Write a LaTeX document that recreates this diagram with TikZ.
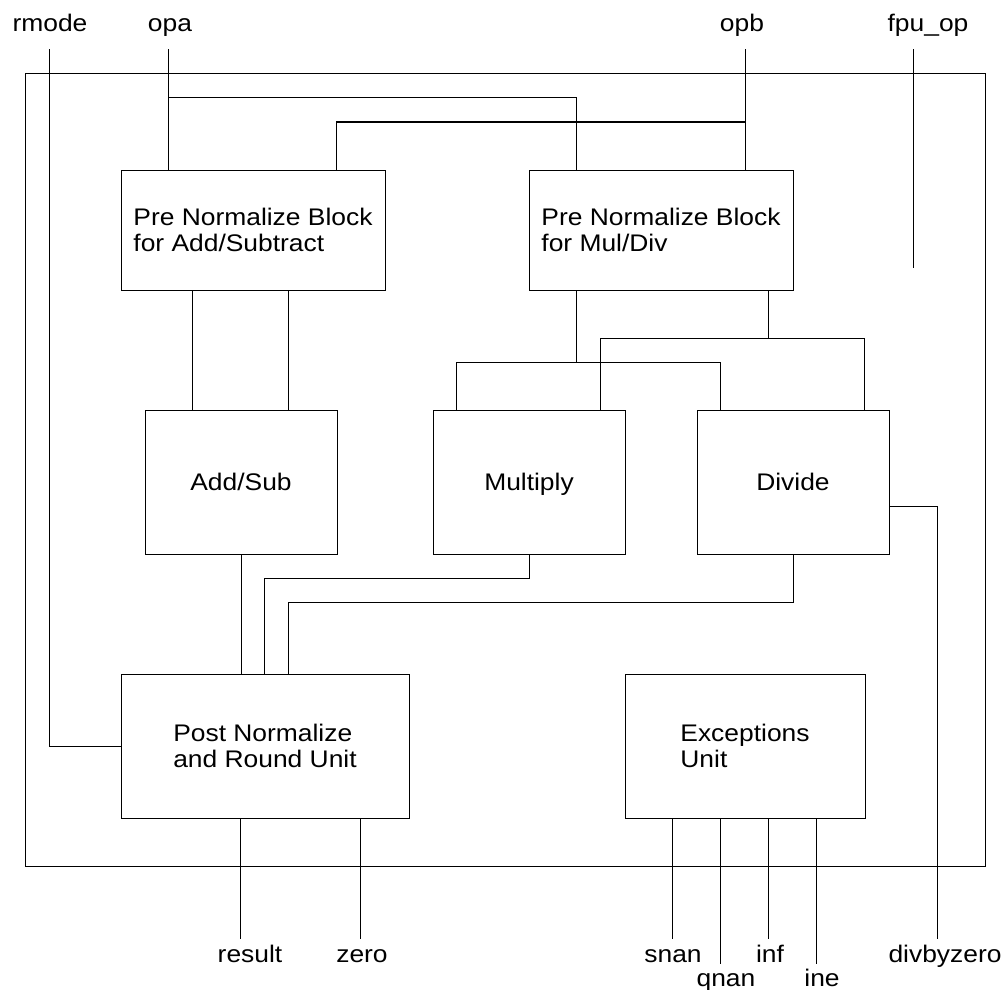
\documentclass[tikz,border=0pt]{standalone}
\usepackage{fontspec}
\setmainfont{Liberation Sans}[FakeStretch=1.1]
\begin{document}
\begin{tikzpicture}[x=1pt,y=-1pt,
  wire/.style={line width=1pt, line cap=rect},
  blk/.style={draw, line width=1pt, inner sep=0pt, align=left, font=\fontsize{24}{26}\selectfont},
  oneline/.style={text height=17pt, text depth=-3pt},
  sig/.style={font=\fontsize{24}{26}\selectfont, anchor=base, inner sep=0pt}]
\useasboundingbox (0,0) rectangle (1005,990);
% outer chip
\node[draw, line width=1pt, inner sep=0pt, minimum width=960, minimum height=792] (chip) at (505,470) {};
% blocks
\node[blk, minimum width=264, minimum height=120] (preas) at (253,230) {Pre Normalize Block\\for Add/Subtract};
\node[blk, minimum width=264, minimum height=120] (premd) at (661,230) {Pre Normalize Block\\for Mul/Div};
\node[blk, oneline, minimum width=192, minimum height=144] (addsub) at (241,482) {Add/Sub};
\node[blk, oneline, minimum width=192, minimum height=144] (mult) at (529,482) {Multiply};
\node[blk, oneline, minimum width=192, minimum height=144] (div) at (793,482) {Divide};
\node[blk, minimum width=288, minimum height=144] (post) at (265,746) {Post Normalize\\and Round Unit};
\node[blk, minimum width=240, minimum height=144] (exc) at (745,746) {Exceptions\\Unit};
% signal labels
\node[sig] (lrmode) at (50,32) {rmode};
\node[sig] (lopa) at (170,32) {opa};
\node[sig] (lopb) at (742,32) {opb};
\node[sig] (lfpu) at (928,32) {fpu\_op};
\node[sig] (lresult) at (250,962) {result};
\node[sig] (lzero) at (362,962) {zero};
\node[sig] (lsnan) at (673,962) {snan};
\node[sig] (lqnan) at (726,986) {qnan};
\node[sig] (linf) at (770,962) {inf};
\node[sig] (line) at (822,986) {ine};
\node[sig] (ldbz) at (945,962) {divbyzero};
% coordinates of free ends
\coordinate (rmodeT) at (49,50);
\coordinate (opaT) at (168,50);
\coordinate (opaJ) at (168,98);
\coordinate (opbT) at (745,50);
\coordinate (opbJ) at (745,122);
\coordinate (fpuT) at (913,50);
\coordinate (fpuE) at (913,267);
% inputs
\draw[wire] (rmodeT) |- (post.west);
\draw[wire] (opaT) -- (opaT |- preas.north);
\draw[wire] (opaJ) -| ([xshift=48]premd.north west);
\draw[wire] (opbT) -- (opbT |- premd.north);
\draw[wire] (opbJ) -| ([xshift=216]preas.north west);
\draw[wire] (fpuT) -- (fpuE);
% pre add/sub to add/sub
\coordinate (a1) at ([xshift=48]addsub.north west);
\coordinate (a2) at ([xshift=144]addsub.north west);
\draw[wire] (a1) -- (a1 |- preas.south);
\draw[wire] (a2) -- (a2 |- preas.south);
% pre mul/div to multiply and divide
\coordinate (m1) at ([xshift=48]premd.south west);
\coordinate (bus1) at ([yshift=-72]m1);
\coordinate (m2) at ([xshift=240]premd.south west);
\coordinate (bus2) at ([yshift=-48]m2);
\coordinate (mi1) at ([xshift=24]mult.north west);
\coordinate (mi2) at ([xshift=168]mult.north west);
\coordinate (di1) at ([xshift=24]div.north west);
\coordinate (di2) at ([xshift=168]div.north west);
\draw[wire] (m1) -- (bus1);
\draw[wire] (mi1) |- (bus1);
\draw[wire] (di1) |- (bus1);
\draw[wire] (m2) -- (bus2);
\draw[wire] (mi2) |- (bus2);
\draw[wire] (di2) |- (bus2);
% results to post normalize
\coordinate (p2) at ([xshift=144]post.north west);
\coordinate (p3) at ([xshift=168]post.north west);
\draw[wire] (addsub.south) -- (addsub.south |- post.north);
\draw[wire] (mult.south) -- ++(0,24) -| (p2);
\draw[wire] (div.south) -- ++(0,48) -| (p3);
% divbyzero
\coordinate (dbzE) at (937,938);
\draw[wire] ([yshift=-24]div.east) -| (dbzE);
% outputs
\coordinate (r0) at ([xshift=120]post.south west);
\coordinate (z0) at ([xshift=240]post.south west);
\draw[wire] (r0) -- (r0 |- dbzE);
\draw[wire] (z0) -- (z0 |- dbzE);
\coordinate (e1) at ([xshift=48]exc.south west);
\coordinate (e2) at ([xshift=96]exc.south west);
\coordinate (e3) at ([xshift=144]exc.south west);
\coordinate (e4) at ([xshift=192]exc.south west);
\draw[wire] (e1) -- (e1 |- dbzE);
\draw[wire] (e2) -- ++(0,145);
\draw[wire] (e3) -- (e3 |- dbzE);
\draw[wire] (e4) -- ++(0,145);
\end{tikzpicture}
\end{document}
